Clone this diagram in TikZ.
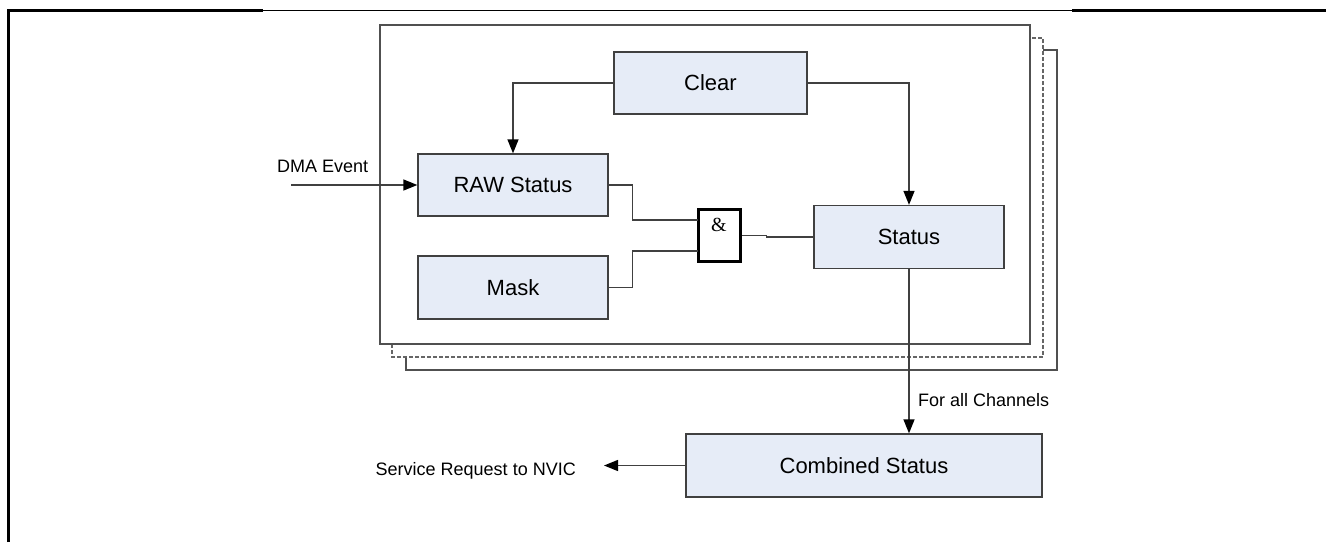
\documentclass[tikz,border=0pt]{standalone}
\usepackage{fontspec}
\setmainfont{Liberation Sans}
\newfontfamily\serifamp{Liberation Serif}
\usetikzlibrary{arrows.meta}
\definecolor{boxfill}{RGB}{230,236,247}
\definecolor{boxline}{RGB}{64,64,64}
\definecolor{frameline}{RGB}{80,80,80}
\tikzset{
  blk/.style={draw=boxline, line width=1.3pt, fill=boxfill, rectangle, inner sep=0pt,
    font=\fontsize{22}{26}\selectfont},
  wire/.style={draw=boxline, line width=1.3pt},
  arr/.style={wire, -{Triangle[length=14pt,width=11pt,color=black]}},
  lbl/.style={font=\fontsize{18}{21}\selectfont, inner sep=0pt},
  frm/.style={draw=frameline, line width=1.3pt, fill=white},
  rule/.style={draw=black, line width=3pt},
}
\begin{document}
\begin{tikzpicture}[x=1pt,y=-1pt]
\useasboundingbox (0,0) rectangle (1326,542);
% page rules
\draw[rule, line cap=butt] (8,542) -- (8,10) -- (263,10);
\draw[black, line width=1pt] (263,10) -- (1072,10);
\draw[rule] (1072,10) -- (1326,10);
% stacked channel frames
\draw[frm] (406,50) rectangle (1057,370);
\draw[frm, dash pattern=on 4pt off 2pt, line width=1.8pt, draw=gray!80!black] (392,38) rectangle (1043,357);
\draw[frm] (380,25) rectangle (1030,344);
% blocks
\node[blk, minimum width=193pt, minimum height=62pt] (clear) at (710.5,83) {Clear};
\node[blk, minimum width=190pt, minimum height=62pt] (raw) at (513,185) {RAW Status};
\node[blk, minimum width=190pt, minimum height=63pt] (mask) at (513,287.5) {Mask};
\node[blk, minimum width=190pt, minimum height=63pt] (status) at (909,237) {Status};
\node[blk, minimum width=356pt, minimum height=63pt] (comb) at (864,465.5) {Combined Status};
\node[draw=black, line width=3pt, fill=white, rectangle, minimum width=42pt, minimum height=52pt, inner sep=0pt] (gate) at (719,235.5) {};
\node[font=\serifamp\fontsize{20}{22}\selectfont, inner sep=0pt] (amp) at (719,225) {\&};
% coordinates
\coordinate (dma) at (291,185);
\coordinate (g1) at (698,220);
\coordinate (g2) at (698,251);
\coordinate (nvic) at (604,465.5);
% connectors
\draw[arr] (clear.west) -| (raw.north);
\draw[arr] (clear.east) -| (status.north);
\draw[arr] (dma) -- (raw.west);
\draw[wire] (raw.east) -- ++(24,0) |- (g1);
\draw[wire] (mask.east) -- ++(24,0) |- (g2);
\draw[wire] (gate.east) -- ++(25,0) |- (status.west);
\draw[arr] (status.south) -- (status.south |- comb.north);
\draw[arr] (comb.west) -- (nvic);
% labels
\node[lbl, anchor=base west] (ldma) at (277,172) {DMA Event};
\node[lbl, anchor=base west] (lall) at (918,406) {For all Channels};
\node[lbl, anchor=base east] (lnvic) at (576,475) {Service Request to NVIC};
\end{tikzpicture}
\end{document}
